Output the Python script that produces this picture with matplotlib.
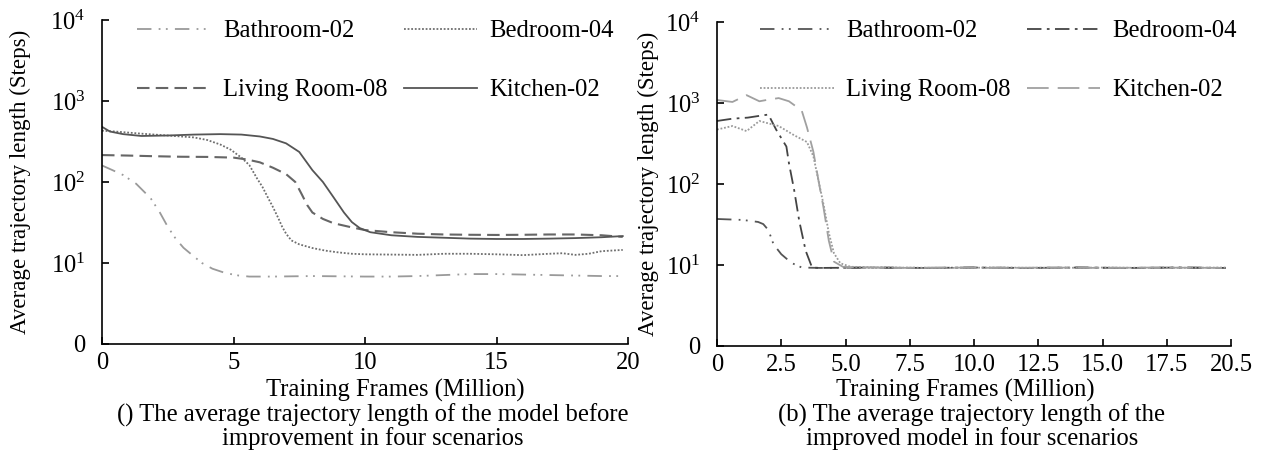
import matplotlib
matplotlib.use("Agg")
import matplotlib.pyplot as plt
import numpy as np

plt.rcParams['font.family'] = ['Liberation Serif', 'DejaVu Serif']
plt.rcParams['mathtext.fontset'] = 'custom'
plt.rcParams['mathtext.rm'] = 'Liberation Serif'
plt.rcParams['mathtext.it'] = 'Liberation Serif:italic'
plt.rcParams['mathtext.bf'] = 'Liberation Serif:bold'

FS = 17.7
FS_Y = 16.6

# ---------------- data: (a) before improvement ----------------
bath_a_x = [0, 0.4, 0.8, 1.3, 1.85, 2.2, 2.5, 2.8, 3.1, 3.5, 3.8, 4.2, 4.7, 5.2, 5.6, 6.5, 8, 10, 11, 12, 13, 14, 15, 16, 17, 18, 19, 19.8]
bath_a_y = [160, 140, 122, 95, 63, 42, 28, 20, 15.4, 12, 10, 8.5, 7.5, 7.0, 6.8, 6.8, 6.9, 6.8, 6.8, 6.9, 7.1, 7.3, 7.3, 7.2, 7.1, 7.0, 6.9, 6.9]

bed_a_x = [0, 0.5, 1.5, 2.5, 3.5, 4.0, 4.5, 4.9, 5.3, 5.6, 5.9, 6.1, 6.3, 6.5, 6.7, 6.85, 7.0, 7.2, 7.5, 8.0, 8.5, 9.0, 9.5, 10, 11, 12, 13, 14, 15, 16, 17, 17.5, 18, 18.5, 19, 19.8]
bed_a_y = [430, 420, 395, 375, 355, 330, 290, 250, 200, 162, 110, 87, 65, 49, 36, 28, 23, 19, 17, 15.3, 14.2, 13.5, 13, 12.8, 12.7, 12.6, 13, 13, 12.8, 12.5, 13, 13.2, 12.6, 13, 14, 14.5]

liv_a_x = [0, 1, 2, 3, 4, 5, 5.5, 6.0, 6.5, 7.0, 7.35, 7.6, 7.8, 8.0, 8.4, 8.8, 9.5, 10, 11, 12, 13, 14, 15, 16, 17, 18, 19, 19.8]
liv_a_y = [215, 212, 208, 205, 204, 200, 190, 175, 150, 125, 100, 70, 52, 42, 35, 31, 27.5, 25.5, 24, 23, 22.5, 22.3, 22.2, 22.3, 22.5, 22.5, 22, 21]

kit_a_x = [0, 0.3, 0.8, 1.5, 2.5, 3.5, 4.5, 5.3, 6.0, 6.5, 7.0, 7.5, 8.0, 8.4, 8.8, 9.2, 9.5, 9.8, 10.2, 11, 12, 13, 14, 15, 16, 17, 18, 19, 19.8]
kit_a_y = [480, 420, 390, 370, 375, 385, 390, 385, 365, 340, 300, 235, 140, 100, 65, 42, 32, 27, 24, 22, 21, 20.5, 20, 19.8, 19.8, 20, 20.3, 20.8, 21.5]

# ---------------- data: (b) improved ----------------
bath_b_x = [0, 1.0, 1.6, 1.8, 2.0, 2.2, 2.5, 2.9, 3.3, 4, 6, 8, 10, 12, 14, 16, 18, 19.8]
bath_b_y = [37, 36, 34, 32, 27, 18, 13.6, 10.6, 9.3, 9.2, 9.3, 9.2, 9.3, 9.2, 9.3, 9.2, 9.3, 9.2]

bed_b_x = [0, 0.6, 1.2, 1.6, 2.0, 2.3, 2.7, 2.8, 3.0, 3.2, 3.45, 3.7, 4.0, 6, 8, 10, 12, 14, 16, 18, 19.8]
bed_b_y = [600, 640, 660, 690, 720, 470, 290, 180, 85, 35, 15, 9.3, 9.2, 9.3, 9.2, 9.3, 9.2, 9.3, 9.2, 9.3, 9.2]

liv_b_x = [0, 0.6, 1.15, 1.65, 2.0, 2.4, 3.0, 3.5, 3.75, 3.95, 4.15, 4.35, 4.55, 4.8, 5.2, 7, 9, 11, 13, 15, 17, 19.8]
liv_b_y = [470, 520, 450, 600, 560, 520, 400, 330, 220, 110, 55, 25, 14, 10.5, 9.5, 9.3, 9.2, 9.3, 9.2, 9.3, 9.2, 9.3]

kit_b_x = [0, 0.6, 1.15, 1.65, 2.0, 2.4, 2.8, 3.05, 3.3, 3.5, 3.75, 3.95, 4.15, 4.35, 4.55, 4.9, 5.5, 7, 9, 11, 13, 15, 17, 19.8]
kit_b_y = [1090, 1030, 1250, 1050, 1100, 1150, 1050, 920, 800, 500, 250, 110, 50, 20, 11, 9.5, 9.3, 9.2, 9.3, 9.2, 9.3, 9.2, 9.3, 9.2]

labels = ['Bathroom-02', 'Bedroom-04', 'Living Room-08', 'Kitchen-02']
y_ticks = [1, 10, 100, 1000, 10000]
y_ticklabels = ['0', '$10^1$', '$10^2$', '$10^3$', '$10^4$']
xa_ticks = [0, 5, 10, 15, 20]
xa_ticklabels = ['0', '5', '10', '15', '20']
xb_ticks = [0, 2.5, 5, 7.5, 10, 12.5, 15, 17.5, 20]
xb_ticklabels = ['0', '2.5', '5.0', '7.5', '10.0', '12.5', '15.0', '17.5', '20.5']

W, H = 1269, 459
fig = plt.figure(figsize=(W / 100, H / 100), dpi=100)

def fx(px):
    return px / W

def fy(py):
    return 1 - py / H

ax1 = fig.add_axes([fx(102), fy(344), fx(628) - fx(102), fy(20) - fy(344)])
ax2 = fig.add_axes([fx(717), fy(346), fx(1231) - fx(717), fy(22) - fy(346)])

lw = 1.3
ax1.plot(bath_a_x, bath_a_y, color='#9a9a9a', lw=lw, ls=(0, (8, 4, 1, 3, 1, 4)), label=labels[0])
ax1.plot(bed_a_x, bed_a_y, color='#6e6e6e', lw=lw, ls=(0, (1, 1)), label=labels[1])
ax1.plot(liv_a_x, liv_a_y, color='#666666', lw=lw + 0.2, ls=(0, (6, 3)), label=labels[2])
ax1.plot(kit_a_x, kit_a_y, color='#555555', lw=lw, ls='-', label=labels[3])

ax2.plot(bath_b_x, bath_b_y, color='#555555', lw=lw, ls=(0, (8, 4, 1, 3, 1, 4)), label=labels[0])
ax2.plot(bed_b_x, bed_b_y, color='#444444', lw=lw, ls=(0, (8, 3, 1.5, 3)), label=labels[1])
ax2.plot(liv_b_x, liv_b_y, color='#9a9a9a', lw=lw, ls=(0, (1, 1)), label=labels[2])
ax2.plot(kit_b_x, kit_b_y, color='#a0a0a0', lw=lw, ls=(0, (12, 5)), label=labels[3])

for ax, xt, xtl, ylx, legx in [(ax1, xa_ticks, xa_ticklabels, (31 - 102) / 526, 137),
                               (ax2, xb_ticks, xb_ticklabels, (659 - 717) / 514, 760)]:
    ax.set_yscale('log')
    ax.set_ylim(1, 10000)
    ax.set_xlim(0, 20)
    ax.set_yticks(y_ticks)
    ax.set_yticklabels(y_ticklabels)
    ax.yaxis.set_minor_locator(matplotlib.ticker.NullLocator())
    ax.set_xticks(xt)
    ax.set_xticklabels(xtl)
    ax.tick_params(direction='in', length=5, width=1.2, labelsize=FS)
    ax.tick_params(axis='x', pad=6)
    ax.tick_params(axis='y', pad=12)
    for s in ['top', 'right']:
        ax.spines[s].set_visible(False)
    for s in ['left', 'bottom']:
        ax.spines[s].set_linewidth(1.2)
    ax.set_ylabel('Average trajectory length (Steps)', fontsize=FS_Y)
    ax.yaxis.set_label_coords(ylx, 0.5)
    # legend rows: Bathroom / Bedroom, then Living Room / Kitchen
    h, l = ax.get_legend_handles_labels()
    order = [0, 2, 1, 3]
    ax.legend([h[i] for i in order], [l[i] for i in order],
              loc='upper left',
              bbox_to_anchor=(fx(legx), fy(20)),
              bbox_transform=fig.transFigure,
              ncol=2, frameon=False, fontsize=FS, handlelength=3.0, handletextpad=0.5,
              columnspacing=0.65, labelspacing=1.5, borderpad=0, borderaxespad=0)

fig.text(fx(395), fy(390), 'Training Frames (Million)', ha='center', va='center', fontsize=FS)
fig.text(fx(965), fy(390), 'Training Frames (Million)', ha='center', va='center', fontsize=FS)
fig.text(fx(373), fy(415), '() The average trajectory length of the model before', ha='center', va='center', fontsize=FS)
fig.text(fx(373), fy(439), 'improvement in four scenarios', ha='center', va='center', fontsize=FS)
fig.text(fx(972), fy(415), '(b) The average trajectory length of the', ha='center', va='center', fontsize=FS)
fig.text(fx(972), fy(439), 'improved model in four scenarios', ha='center', va='center', fontsize=FS)

fig.savefig('out.png', dpi=100)
